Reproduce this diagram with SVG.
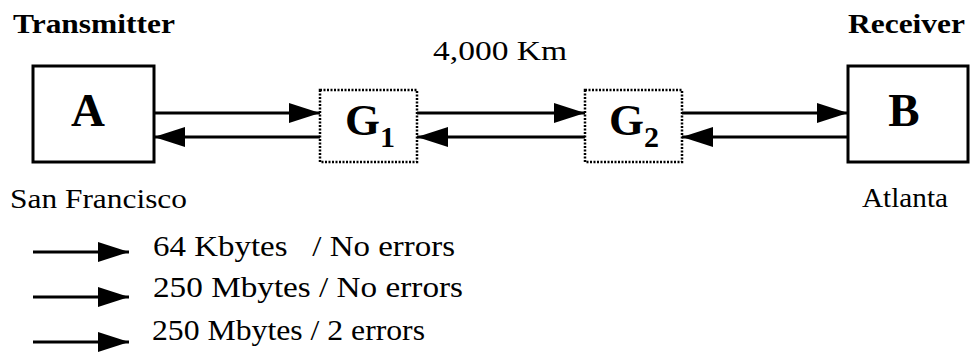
<svg xmlns="http://www.w3.org/2000/svg" width="970" height="354" viewBox="0 0 970 354">
<style>
  .lbl { font-family: "Liberation Serif", "Times New Roman", serif; fill: #000; }
  .b { font-weight: bold; }
  .box { fill: #fff; stroke: #000; stroke-width: 3; }
  .gbox { fill: #fff; stroke: #000; stroke-width: 2.5; stroke-dasharray: 2 1.5; }
  .conn { stroke: #000; stroke-width: 3; fill: none; }
</style>
<defs>
  <marker id="ah" markerUnits="userSpaceOnUse" markerWidth="34" markerHeight="22" refX="31" refY="10" orient="auto">
    <path d="M0,0 L31,10 L0,20 Z" fill="#000"/>
  </marker>
</defs>
<rect width="970" height="354" fill="#fff"/>

<text class="lbl b" x="13" y="33" font-size="28" textLength="162" lengthAdjust="spacingAndGlyphs">Transmitter</text>
<text class="lbl b" x="848" y="33" font-size="28" textLength="117" lengthAdjust="spacingAndGlyphs">Receiver</text>
<text class="lbl" x="433" y="60" font-size="27" textLength="134" lengthAdjust="spacingAndGlyphs">4,000 Km</text>

<g id="nodeA">
  <rect class="box" x="33" y="66" width="121" height="96"/>
  <text class="lbl b" x="88" y="126" font-size="47" text-anchor="middle">A</text>
</g>
<g id="nodeG1">
  <rect class="gbox" x="320" y="90" width="97" height="72"/>
  <text class="lbl b" x="345" y="135" font-size="45">G<tspan font-size="30" dy="12">1</tspan></text>
</g>
<g id="nodeG2">
  <rect class="gbox" x="585" y="90" width="97" height="72"/>
  <text class="lbl b" x="609" y="135" font-size="45">G<tspan font-size="30" dy="12">2</tspan></text>
</g>
<g id="nodeB">
  <rect class="box" x="848" y="66" width="120" height="96"/>
  <text class="lbl b" x="904" y="126" font-size="47" text-anchor="middle">B</text>
</g>

<text class="lbl" x="10" y="208" font-size="28" textLength="177" lengthAdjust="spacingAndGlyphs">San Francisco</text>
<text class="lbl" x="862" y="207" font-size="28" textLength="86" lengthAdjust="spacingAndGlyphs">Atlanta</text>

<g id="connectors">
  <line class="conn" x1="154" y1="113" x2="320" y2="113" marker-end="url(#ah)"/>
  <line class="conn" x1="320" y1="137" x2="154" y2="137" marker-end="url(#ah)"/>
  <line class="conn" x1="417" y1="113" x2="585" y2="113" marker-end="url(#ah)"/>
  <line class="conn" x1="585" y1="137" x2="417" y2="137" marker-end="url(#ah)"/>
  <line class="conn" x1="682" y1="113" x2="848" y2="113" marker-end="url(#ah)"/>
  <line class="conn" x1="848" y1="137" x2="682" y2="137" marker-end="url(#ah)"/>
</g>

<g id="legend">
  <line class="conn" x1="33" y1="252" x2="129" y2="252" marker-end="url(#ah)"/>
  <line class="conn" x1="33" y1="297" x2="129" y2="297" marker-end="url(#ah)"/>
  <line class="conn" x1="33" y1="342" x2="129" y2="342" marker-end="url(#ah)"/>
  <text class="lbl" x="153" y="256" font-size="29" xml:space="preserve" textLength="302" lengthAdjust="spacingAndGlyphs">64 Kbytes   / No errors</text>
  <text class="lbl" x="153" y="297" font-size="29" textLength="310" lengthAdjust="spacingAndGlyphs">250 Mbytes / No errors</text>
  <text class="lbl" x="152" y="340" font-size="29" textLength="273" lengthAdjust="spacingAndGlyphs">250 Mbytes / 2 errors</text>
</g>
</svg>
